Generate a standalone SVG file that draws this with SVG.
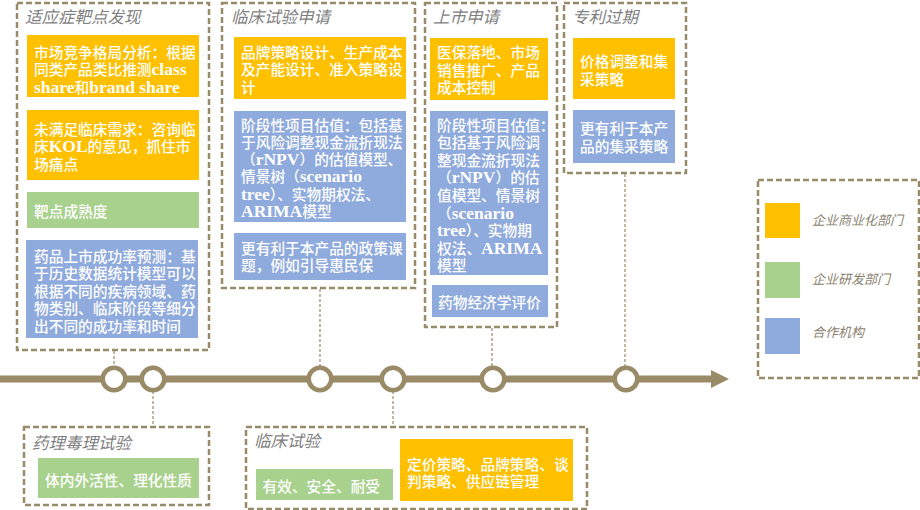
<svg xmlns="http://www.w3.org/2000/svg" width="920" height="510" viewBox="0 0 920 510">
<style>
.frame{fill:#fff;stroke:#998a68;stroke-width:2.5;stroke-dasharray:6 3}
.conn{fill:none;stroke:#998a68;stroke-width:1.2;stroke-dasharray:3 2}
.y{fill:#FFC000}.g{fill:#A9D18E}.b{fill:#8FAADC}
.t{font-family:"Noto Sans CJK SC","Liberation Sans",sans-serif;font-size:14.7px;fill:#fff;font-weight:500}
.en{font-family:"Liberation Serif","Noto Sans CJK SC",serif;font-weight:bold;font-size:17.5px}
.title{font-family:"Noto Sans CJK SC","Liberation Sans",sans-serif;font-size:16.5px;font-style:italic;fill:#7f7f7f}
.leg{font-family:"Noto Sans CJK SC","Liberation Sans",sans-serif;font-size:13px;font-style:italic;fill:#8a826f}
.dot{fill:#fff;stroke:#998a68;stroke-width:4.6}
</style>

<g id="timeline">
<line x1="0" y1="379" x2="713" y2="379" stroke="#998a68" stroke-width="7"/>
<polygon points="711,370 729,379 711,388" fill="#998a68"/>
</g>

<g id="connectors">
<line class="conn" x1="114" y1="351" x2="114" y2="367"/>
<line class="conn" x1="320" y1="289" x2="320" y2="367"/>
<line class="conn" x1="492" y1="328" x2="492" y2="367"/>
<line class="conn" x1="625" y1="174" x2="625" y2="367"/>
<line class="conn" x1="153" y1="391" x2="153" y2="427"/>
<line class="conn" x1="393" y1="391" x2="393" y2="427"/>
</g>

<g id="milestones">
<circle class="dot" cx="114" cy="379" r="11.3"/>
<circle class="dot" cx="153" cy="379" r="11.3"/>
<circle class="dot" cx="320" cy="379" r="11.3"/>
<circle class="dot" cx="393" cy="379" r="11.3"/>
<circle class="dot" cx="493" cy="379" r="11.3"/>
<circle class="dot" cx="626" cy="379" r="11.3"/>
</g>

<g id="stage-target">
<rect class="frame" x="17" y="3" width="192" height="347"/>
<text class="title" x="25" y="22.5">适应症靶点发现</text>
<rect class="y" x="27" y="35" width="172" height="62"/>
<text class="t" x="34" y="58">市场竞争格局分析：根据</text>
<text class="t" x="34" y="75.3">同类产品类比推测<tspan class="en">class</tspan></text>
<text class="t" x="34" y="92.6"><tspan class="en">share</tspan>和<tspan class="en">brand share</tspan></text>
<rect class="y" x="27" y="110" width="172" height="70"/>
<text class="t" x="34" y="135">未满足临床需求：咨询临</text>
<text class="t" x="34" y="152.3">床<tspan class="en">KOL</tspan>的意见，抓住市</text>
<text class="t" x="34" y="169.6">场痛点</text>
<rect class="g" x="27" y="192" width="172" height="36"/>
<text class="t" x="34" y="217">靶点成熟度</text>
<rect class="b" x="26" y="240" width="172" height="98"/>
<text class="t" x="34" y="262">药品上市成功率预测：基</text>
<text class="t" x="34" y="279.4">于历史数据统计模型可以</text>
<text class="t" x="34" y="296.8">根据不同的疾病领域、药</text>
<text class="t" x="34" y="314.2">物类别、临床阶段等细分</text>
<text class="t" x="34" y="331.6">出不同的成功率和时间</text>
</g>

<g id="stage-ind">
<rect class="frame" x="222" y="3" width="193" height="285"/>
<text class="title" x="231" y="22.5">临床试验申请</text>
<rect class="y" x="234" y="37" width="172" height="62"/>
<text class="t" x="241" y="58">品牌策略设计、生产成本</text>
<text class="t" x="241" y="75.4">及产能设计、准入策略设</text>
<text class="t" x="241" y="92.8">计</text>
<rect class="b" x="234" y="111" width="172" height="111"/>
<text class="t" x="241" y="130.5">阶段性项目估值：包括基</text>
<text class="t" x="241" y="147.8">于风险调整现金流折现法</text>
<text class="t" x="241" y="165.1">（<tspan class="en">rNPV</tspan>）的估值模型、</text>
<text class="t" x="241" y="182.4">情景树（<tspan class="en">scenario</tspan></text>
<text class="t" x="241" y="199.7"><tspan class="en">tree</tspan>）、实物期权法、</text>
<text class="t" x="241" y="217"><tspan class="en">ARIMA</tspan>模型</text>
<rect class="b" x="234" y="233" width="172" height="47"/>
<text class="t" x="241" y="254">更有利于本产品的政策课</text>
<text class="t" x="241" y="271">题，例如引导惠民保</text>
</g>

<g id="stage-nda">
<rect class="frame" x="425" y="3" width="132" height="324"/>
<text class="title" x="433" y="22.5">上市申请</text>
<rect class="y" x="430" y="38" width="118" height="62"/>
<text class="t" x="437" y="58">医保落地、市场</text>
<text class="t" x="437" y="75.5">销售推广、产品</text>
<text class="t" x="437" y="93">成本控制</text>
<rect class="b" x="430" y="111" width="118" height="164"/>
<text class="t" x="437" y="130.5">阶段性项目估值：</text>
<text class="t" x="437" y="148.1">包括基于风险调</text>
<text class="t" x="437" y="165.7">整现金流折现法</text>
<text class="t" x="437" y="183.3">（<tspan class="en">rNPV</tspan>）的估</text>
<text class="t" x="437" y="200.9">值模型、情景树</text>
<text class="t" x="437" y="218.5">（<tspan class="en">scenario</tspan></text>
<text class="t" x="437" y="236.1"><tspan class="en">tree</tspan>）、实物期</text>
<text class="t" x="437" y="253.7">权法、<tspan class="en">ARIMA</tspan></text>
<text class="t" x="437" y="271.3">模型</text>
<rect class="b" x="432" y="285" width="116" height="32"/>
<text class="t" x="438" y="308">药物经济学评价</text>
</g>

<g id="stage-patent">
<rect class="frame" x="564" y="3" width="122" height="170"/>
<text class="title" x="572" y="22.5">专利过期</text>
<rect class="y" x="573" y="38" width="102" height="61"/>
<text class="t" x="580" y="67">价格调整和集</text>
<text class="t" x="580" y="85">采策略</text>
<rect class="b" x="573" y="110" width="102" height="53"/>
<text class="t" x="580" y="134">更有利于本产</text>
<text class="t" x="580" y="152">品的集采策略</text>
</g>

<g id="stage-tox">
<rect class="frame" x="24" y="427" width="185" height="78"/>
<text class="title" x="32" y="448.5">药理毒理试验</text>
<rect class="g" x="38" y="458" width="161" height="40"/>
<text class="t" x="45" y="485.5">体内外活性、理化性质</text>
</g>

<g id="stage-clinical">
<rect class="frame" x="246" y="427" width="341" height="82"/>
<text class="title" x="254" y="447">临床试验</text>
<rect class="g" x="256" y="469" width="137" height="31"/>
<text class="t" x="262.5" y="492">有效、安全、耐受</text>
<rect class="y" x="400" y="439" width="173" height="62"/>
<text class="t" x="407" y="469.5">定价策略、品牌策略、谈</text>
<text class="t" x="407" y="486.5">判策略、供应链管理</text>
</g>

<g id="legend">
<rect class="frame" x="758" y="180" width="161" height="198"/>
<rect class="y" x="765" y="203" width="35" height="35"/>
<text class="leg" x="812" y="225">企业商业化部门</text>
<rect class="g" x="765" y="262" width="35" height="36"/>
<text class="leg" x="812" y="284">企业研发部门</text>
<rect class="b" x="765" y="318" width="35" height="36"/>
<text class="leg" x="812" y="336.5">合作机构</text>
</g>
</svg>
